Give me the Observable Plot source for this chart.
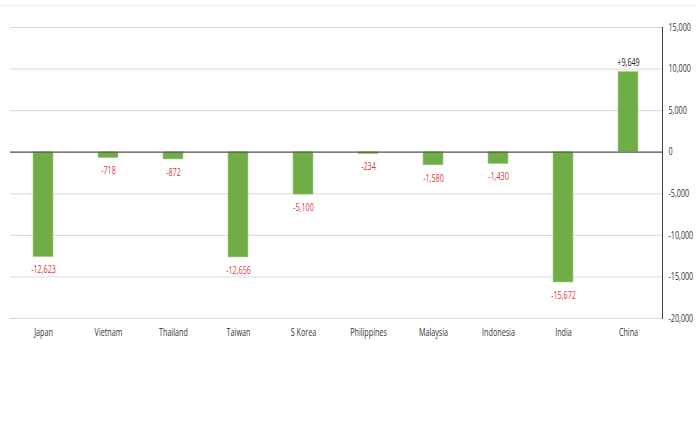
<!DOCTYPE html>
<html><head><meta charset="utf-8">
<script src="https://cdn.jsdelivr.net/npm/d3@7"></script>
<script src="https://cdn.jsdelivr.net/npm/@observablehq/plot@0.6"></script>
<style>
body{margin:0;background:#fff;}
#chart{position:relative;width:696px;height:424px;}
#topline{position:absolute;left:0;top:5px;width:696px;height:0;border-top:1px solid #eeeeee;}
</style></head>
<body><div id="chart"><div id="topline"></div></div>
<script>
const countries = ["Japan","Vietnam","Thailand","Taiwan","S Korea","Philippines","Malaysia","Indonesia","India","China"];
const values = [-12623,-718,-872,-12656,-5100,-234,-1580,-1430,-15672,9649];
const yTicks = [15000,10000,5000,0,-5000,-10000,-15000,-20000];

const data = countries.map((c,i)=>({country:c, value:values[i]}));
const fmt = d3.formatLocale({decimal:".", thousands:",", grouping:[3], currency:["",""], minus:"-"}).format(",");
const lab = v => (v>0?"+":"") + fmt(v);
const FONT = "'Open Sans', sans-serif";

const plot = Plot.plot({
  width:696, height:424,
  marginLeft:10, marginRight:34, marginTop:27, marginBottom:106,
  style:{fontFamily:FONT, fontSize:"10px", color:"#333", background:"transparent"},
  x:{domain:countries, paddingInner:0.69, paddingOuter:0.345, label:null},
  y:{domain:[-20000,15000], label:null},
  marks:[
    Plot.gridY(yTicks, {stroke:"#d9d9d9", strokeOpacity:1, strokeWidth:1}),
    Plot.barY(data, {x:"country", y:"value", fill:"#70ad47", stroke:"#a9d18e", strokeWidth:0.6}),
    Plot.ruleY([0], {stroke:"#595959", strokeWidth:1.2}),
    Plot.frame({anchor:"right", stroke:"#404040", strokeWidth:1}),
    Plot.axisY(yTicks, {anchor:"right", tickSize:0, tickPadding:6, tickFormat:d=>fmt(d), fill:"#333"}),
    Plot.axisX({anchor:"bottom", tickSize:0, tickPadding:10, fill:"#333"}),
    Plot.text(data.filter(d=>d.value<0), {x:"country", y:"value", text:d=>lab(d.value), dy:13, fill:"#e0383b"}),
    Plot.text(data.filter(d=>d.value>0), {x:"country", y:"value", text:d=>lab(d.value), dy:-9, fill:"#222"})
  ]
});
// horizontally condense the lettering (narrow typeface look), keeping each anchor in place
const S = 0.72;
plot.querySelectorAll("text").forEach(t => {
  const ax = +(t.getAttribute("x") || 0);
  const tr = t.getAttribute("transform") || "";
  t.setAttribute("transform", `${tr} translate(${ax},0) scale(${S},1) translate(${-ax},0)`);
});
document.getElementById("chart").appendChild(plot);
</script></body></html>
